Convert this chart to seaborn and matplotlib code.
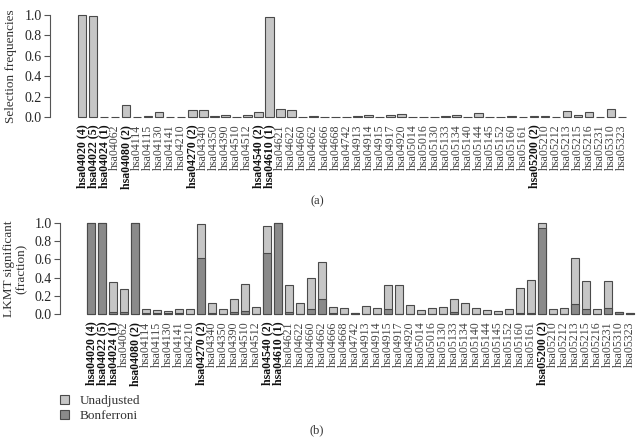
import numpy as np
import pandas as pd
import matplotlib
matplotlib.use('Agg')
import matplotlib.pyplot as plt
import seaborn as sns
from matplotlib.patches import Patch

# pathway labels (same for both panels)
pathways = ['hsa04020 (4)', 'hsa04022 (5)', 'hsa04024 (1)', 'hsa04062', 'hsa04080 (2)',
            'hsa04114', 'hsa04115', 'hsa04130', 'hsa04141', 'hsa04210',
            'hsa04270 (2)', 'hsa04340', 'hsa04350', 'hsa04390', 'hsa04510',
            'hsa04512', 'hsa04540 (2)', 'hsa04610 (1)', 'hsa04621', 'hsa04622',
            'hsa04660', 'hsa04662', 'hsa04666', 'hsa04668', 'hsa04742',
            'hsa04913', 'hsa04914', 'hsa04915', 'hsa04917', 'hsa04920',
            'hsa05014', 'hsa05016', 'hsa05130', 'hsa05133', 'hsa05134',
            'hsa05140', 'hsa05144', 'hsa05145', 'hsa05152', 'hsa05160',
            'hsa05161', 'hsa05200 (2)', 'hsa05210', 'hsa05212', 'hsa05213',
            'hsa05215', 'hsa05216', 'hsa05231', 'hsa05310', 'hsa05323']

# (a) selection frequencies
selection = [1.0, 0.99, 0.0, 0.0, 0.12, 0.0, 0.01, 0.045, 0.0, 0.0,
             0.07, 0.07, 0.01, 0.015, 0.0, 0.02, 0.045, 0.98, 0.08, 0.07,
             0.0, 0.01, 0.0, 0.0, 0.0, 0.01, 0.02, 0.0, 0.02, 0.03,
             0.0, 0.0, 0.0, 0.01, 0.02, 0.0, 0.04, 0.0, 0.0, 0.01,
             0.0, 0.01, 0.01, 0.0, 0.055, 0.02, 0.045, 0.0, 0.075, 0.0]

# (b) LKMT significant fraction
unadjusted = [1.0, 1.0, 0.35, 0.27, 1.0, 0.05, 0.04, 0.03, 0.05, 0.06,
              0.99, 0.12, 0.06, 0.17, 0.33, 0.08, 0.97, 1.0, 0.32, 0.12,
              0.40, 0.57, 0.08, 0.07, 0.01, 0.09, 0.07, 0.32, 0.32, 0.10,
              0.04, 0.07, 0.08, 0.17, 0.12, 0.07, 0.04, 0.03, 0.06, 0.29,
              0.37, 1.0, 0.06, 0.07, 0.62, 0.36, 0.05, 0.36, 0.02, 0.01]
bonferroni = [1.0, 1.0, 0.02, 0.02, 1.0, 0.01, 0.01, 0.01, 0.01, 0.0,
              0.62, 0.01, 0.0, 0.02, 0.03, 0.0, 0.67, 1.0, 0.02, 0.0,
              0.05, 0.16, 0.01, 0.0, 0.01, 0.0, 0.0, 0.05, 0.0, 0.0,
              0.0, 0.0, 0.0, 0.02, 0.0, 0.0, 0.0, 0.0, 0.0, 0.01,
              0.01, 0.94, 0.0, 0.0, 0.11, 0.06, 0.0, 0.07, 0.02, 0.01]

df = pd.DataFrame({'pathway': pathways, 'selection': selection,
                   'unadjusted': unadjusted, 'bonferroni': bonferroni})

sns.set_style('white')
plt.rcParams['font.family'] = ['Liberation Serif', 'DejaVu Serif']

light = '#c6c6c6'
dark = '#8a8a8a'
edge = '#4a4a4a'

W, H = 641, 438
fig = plt.figure(figsize=(W / 100, H / 100), dpi=100)

ax1 = fig.add_axes([76.5 / W, 1 - 117 / H, 551 / W, 102 / H])
ax2 = fig.add_axes([85.5 / W, 1 - 314 / H, 550 / W, 91 / H])

sns.barplot(data=df, x='pathway', y='selection', color=light, saturation=1,
            edgecolor=edge, linewidth=0.8, width=0.78, ax=ax1)
sns.barplot(data=df, x='pathway', y='unadjusted', color=light, saturation=1,
            edgecolor=edge, linewidth=0.8, width=0.78, ax=ax2)
sns.barplot(data=df, x='pathway', y='bonferroni', color=dark, saturation=1,
            edgecolor=edge, linewidth=0.8, width=0.78, ax=ax2)

# spine offsets are in points (72 per inch, figure at 100 dpi)
for ax, ylab, off in [(ax1, 'Selection frequencies', 26.5 * 0.72),
                      (ax2, 'LKMT significant\n(fraction)', 25.5 * 0.72)]:
    ax.set_xlim(-0.5, len(pathways) - 0.5)
    ax.set_ylim(0, 1.0)
    ax.set_yticks([0, 0.2, 0.4, 0.6, 0.8, 1.0])
    ax.set_yticklabels(['0.0', '0.2', '0.4', '0.6', '0.8', '1.0'], fontsize=9, color='#333333')
    ax.set_ylabel(ylab, fontsize=9.5, color='#333333', labelpad=5, linespacing=1.0)
    ax.set_xlabel('')
    for s in ['top', 'right', 'bottom']:
        ax.spines[s].set_visible(False)
    ax.spines['left'].set_position(('outward', off))
    ax.spines['left'].set_color('#555555')
    ax.spines['left'].set_linewidth(0.8)
    ax.tick_params(axis='y', left=True, length=4, width=0.8, color='#555555', pad=2)
    ax.tick_params(axis='x', bottom=False, pad=2)
    ax.set_xticks(range(len(pathways)))
    ax.set_xticklabels(pathways, rotation=90, fontsize=8.6)
    for t in ax.get_xticklabels():
        if '(' in t.get_text():
            t.set_fontweight('bold')
            t.set_color('#111111')
        else:
            t.set_color('#444444')
    for p in ax.patches:
        p.set_clip_on(False)
    ax.set_facecolor('none')

fig.legend(handles=[Patch(facecolor=light, edgecolor=edge, linewidth=0.8, label='Unadjusted'),
                    Patch(facecolor=dark, edgecolor=edge, linewidth=0.8, label='Bonferroni')],
           loc='upper left', bbox_to_anchor=(48 / W, 1 - 383 / H), frameon=False,
           fontsize=9.5, handlelength=0.7, handleheight=0.7, handletextpad=0.8,
           labelspacing=0.22, labelcolor='#333333')

fig.text(317 / W, 1 - 201 / H, '(a)', ha='center', va='center', fontsize=9, color='#333333')
fig.text(317 / W, 1 - 430 / H, '(b)', ha='center', va='center', fontsize=9, color='#333333')

fig.savefig('out.png', dpi=100)
